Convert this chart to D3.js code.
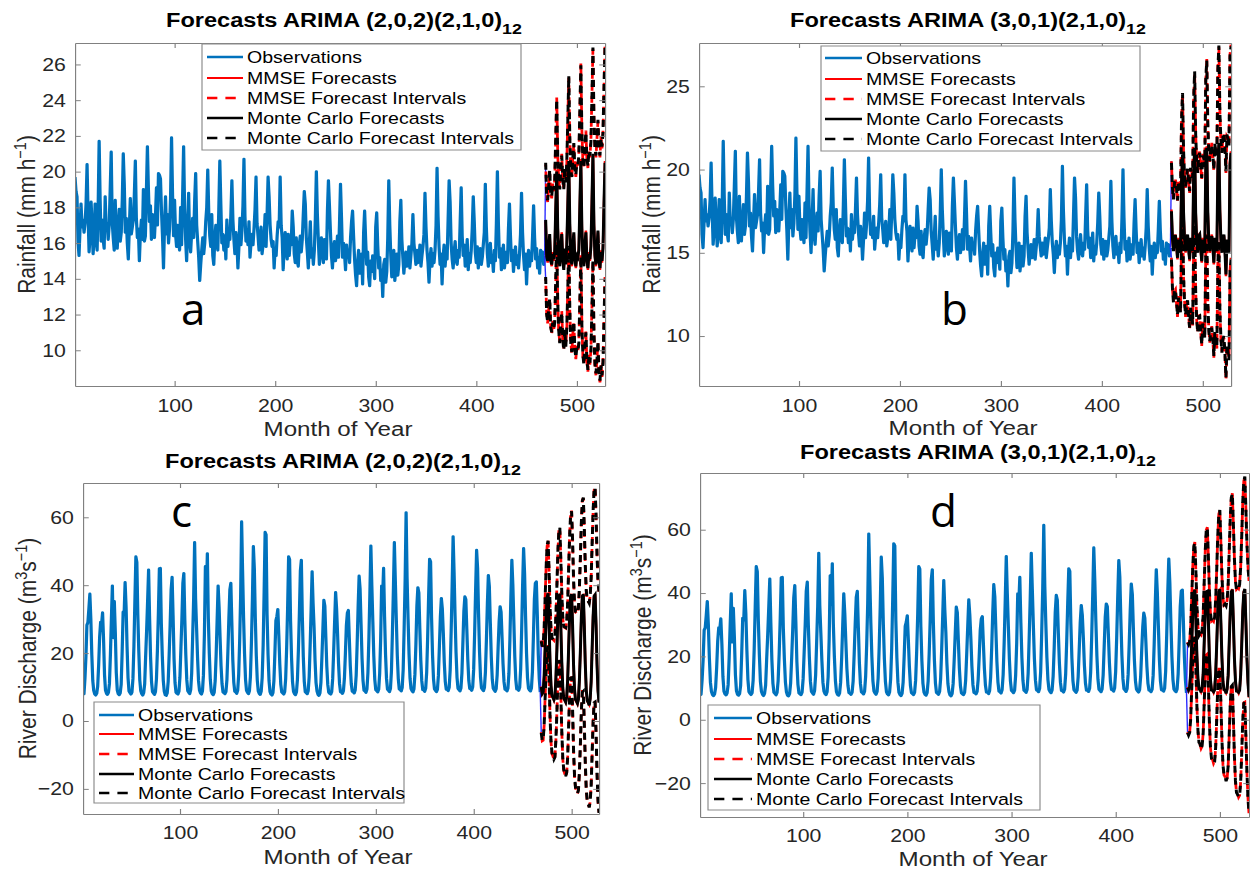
<!DOCTYPE html>
<html><head><meta charset="utf-8">
<script src="https://cdn.jsdelivr.net/npm/d3@7"></script>
<style>html,body{margin:0;padding:0;background:#fff;overflow:hidden}</style>
</head><body>
<svg id="chart"></svg>
<script>
// ---------------- DATA ----------------
const xTicks = [100, 200, 300, 400, 500];
const yTicksA = [10, 12, 14, 16, 18, 20, 22, 24, 26];
const yTicksB = [10, 15, 20, 25];
const yTicksCD = [-20, 0, 20, 40, 60];
const legendLabels = ["Observations", "MMSE Forecasts", "MMSE Forecast Intervals", "Monte Carlo Forecasts", "Monte Carlo Forecast Intervals"];
const titlesMain = ["Forecasts ARIMA (2,0,2)(2,1,0)", "Forecasts ARIMA (3,0,1)(2,1,0)", "Forecasts ARIMA (2,0,2)(2,1,0)", "Forecasts ARIMA (3,0,1)(2,1,0)"];
const titleSub = "12";
const panelLetters = ["a", "b", "c", "d"];

// Monthly rainfall observations, months 1..468
const rainObs = [
19.7,18.9,18.6,16.1,15.3,16.8,18.2,16.9,17.3,16.6,17.1,18.2,
20.4,17.6,15.5,16.4,18.3,17.0,15.4,16.2,18.2,16.3,15.6,17.9,
21.7,18.4,16.1,17.3,16.2,15.7,18.6,16.8,17.1,16.2,17.0,19.0,
21.1,17.2,16.3,15.6,18.4,16.4,15.7,16.9,17.9,16.1,16.6,18.4,
21.0,19.3,16.6,17.4,16.0,15.1,16.8,18.5,16.5,16.9,17.3,18.7,
20.6,17.4,16.3,16.8,15.0,16.5,17.3,16.2,19.0,16.1,16.4,18.9,
21.4,19.0,17.2,18.1,16.2,17.6,16.9,16.3,17.5,19.1,17.0,19.9,
19.8,19.6,17.8,16.4,14.6,16.9,18.6,16.5,17.6,16.0,16.8,18.5,
21.9,18.7,16.4,18.4,16.5,15.8,17.0,16.2,15.6,18.0,15.9,18.6,
21.4,17.9,16.2,15.0,16.8,18.8,16.1,15.5,16.6,17.4,16.3,18.4,
19.9,17.0,16.1,15.2,13.9,14.8,15.6,16.3,15.4,16.0,17.2,18.0,
20.1,17.7,16.4,15.8,17.6,15.3,14.8,16.2,17.0,16.1,15.6,17.9,
20.6,18.2,16.0,16.5,15.6,16.4,15.1,17.3,15.8,16.6,16.2,17.6,
19.5,17.3,16.2,15.4,16.6,16.0,14.6,15.8,17.4,15.9,16.7,18.1,
20.7,17.5,16.1,16.6,15.9,17.2,15.2,16.0,16.5,15.9,16.8,17.9,
19.7,17.1,16.4,15.6,16.2,16.9,15.4,15.9,16.2,17.6,15.8,17.6,
19.7,18.6,17.0,16.2,15.8,16.1,14.6,15.7,15.3,16.4,17.2,16.9,
19.7,17.0,16.3,14.5,15.8,16.6,15.6,15.1,16.5,15.3,16.1,15.9,
17.8,16.9,15.4,14.9,16.3,15.0,14.7,15.9,16.4,15.5,16.2,17.6,
18.9,18.2,16.3,15.5,14.6,15.9,17.2,15.2,15.7,14.8,15.6,17.4,
20.0,17.6,16.1,14.8,15.6,16.3,15.4,14.9,16.2,15.6,15.1,17.8,
19.5,18.1,16.6,15.3,14.6,15.7,16.1,15.0,15.5,16.4,15.2,17.1,
19.3,17.4,15.2,16.0,15.4,14.5,15.9,15.2,15.6,14.9,16.3,17.2,
17.8,16.4,15.1,14.2,13.6,14.9,15.6,14.3,14.9,15.4,13.7,16.6,
17.8,16.2,14.8,15.5,14.1,13.6,15.0,14.4,15.3,14.7,14.0,16.9,
17.7,15.9,14.6,15.2,13.9,14.5,13.0,14.8,15.1,13.8,14.4,16.3,
19.5,17.0,15.3,14.1,14.9,15.6,13.9,14.6,15.4,14.2,14.8,17.2,
18.4,16.2,15.2,14.3,15.0,15.5,14.7,14.9,15.8,14.6,15.3,16.0,
17.6,16.0,15.4,14.8,15.6,14.9,15.2,15.9,14.7,15.3,15.8,16.5,
18.8,16.9,15.6,14.9,13.8,15.1,15.7,14.7,15.4,14.9,15.6,17.0,
20.2,17.5,15.8,14.8,15.4,13.7,15.2,15.9,14.7,15.5,15.1,17.3,
19.5,18.3,16.0,15.1,14.6,15.5,16.1,15.0,14.8,15.6,15.2,17.2,
19.1,16.4,15.3,15.9,14.7,15.2,16.2,14.5,15.4,14.9,15.6,16.8,
18.6,17.2,15.5,14.9,15.8,14.6,15.3,15.7,14.8,15.2,15.9,16.6,
19.3,16.9,15.4,14.7,15.5,16.0,14.9,15.3,14.4,15.6,15.0,17.1,
20.0,17.1,15.2,15.7,14.5,15.3,15.9,14.6,15.1,15.5,14.9,16.8,
18.2,16.4,15.0,15.6,14.4,15.2,15.8,14.8,15.3,14.6,15.4,16.5,
18.8,16.6,15.3,14.5,15.4,13.7,15.1,15.6,14.7,15.3,15.0,16.4,
18.1,16.3,15.1,15.7,14.6,15.2,14.3,15.6,15.0,15.5,14.8,15.3
];

// Monthly river discharge observations, months 1..468
const dischargeObs = [
8.2,8.0,12.5,19.0,28.3,29.0,33.0,37.4,30.1,19.5,11.8,8.9,
7.9,7.6,8.1,10.2,16.5,24.8,29.1,28.6,31.9,24.0,13.6,9.0,
8.1,7.8,8.4,11.0,19.6,30.2,39.8,24.5,35.2,26.1,14.2,9.1,
8.0,7.7,8.2,10.8,20.5,32.1,31.5,40.8,33.6,21.9,12.7,8.8,
8.3,7.9,8.5,12.4,22.0,35.5,48.4,46.8,31.2,20.4,12.0,8.9,
8.0,7.6,8.3,10.9,19.2,26.8,35.4,44.5,30.6,18.9,11.5,8.6,
8.2,7.8,8.6,12.3,20.8,31.9,44.9,45.0,28.7,19.1,11.9,8.7,
7.7,7.5,8.2,11.6,19.5,28.4,38.6,42.4,31.0,18.3,11.2,8.4,
8.1,7.9,8.7,12.9,21.4,30.1,40.6,43.5,29.8,19.6,12.1,8.9,
8.4,8.0,9.2,14.1,24.8,35.9,52.6,36.0,27.4,18.7,11.8,9.0,
8.2,7.9,8.8,13.5,25.6,45.5,36.4,49.3,30.2,19.9,12.3,8.8,
8.0,7.7,8.4,11.8,19.6,29.8,39.8,33.5,24.6,16.2,10.9,8.5,
8.3,8.0,8.6,12.2,20.7,30.4,38.7,40.6,29.1,18.0,11.4,8.7,
8.5,8.1,9.0,13.6,23.5,36.8,58.7,44.2,30.5,19.8,12.2,9.0,
8.4,8.0,8.9,13.1,22.9,35.6,51.4,44.8,30.1,19.2,12.0,8.8,
8.1,7.8,8.7,12.8,22.4,38.1,55.6,54.9,31.3,19.5,11.8,8.6,
7.9,7.6,8.3,11.9,20.1,29.6,30.8,32.9,25.2,16.7,10.8,8.5,
8.2,7.9,8.6,12.5,21.6,33.4,48.4,47.6,29.4,18.6,11.5,8.7,
8.0,7.7,8.5,12.2,20.9,31.8,44.2,47.4,30.8,18.9,11.6,8.6,
8.3,8.0,8.9,13.0,22.3,33.0,44.0,34.7,27.6,17.8,11.3,8.8,
7.8,7.5,8.2,11.4,18.8,27.1,35.6,33.9,24.9,16.1,10.7,8.4,
8.1,7.9,8.6,12.4,20.5,29.4,37.9,33.1,25.7,16.9,11.0,8.6,
8.4,8.1,8.9,12.6,19.9,28.2,31.8,32.6,24.3,16.2,10.9,8.7,
8.6,8.2,9.1,13.4,22.6,33.8,42.7,38.9,28.5,18.4,11.9,9.0,
8.8,8.4,9.4,14.2,24.5,37.6,51.6,39.8,29.4,19.1,12.2,9.2,
8.9,8.5,9.3,14.0,24.1,39.8,36.5,45.0,30.7,19.6,12.4,9.3,
9.0,8.6,9.5,14.6,25.9,38.4,52.6,41.2,29.8,19.3,12.5,9.4,
9.2,8.8,9.8,15.1,27.4,41.5,61.4,42.0,30.1,19.7,12.6,9.5,
8.9,8.5,9.4,13.8,22.7,33.9,39.3,37.8,27.2,17.9,11.8,9.2,
9.1,8.7,9.6,14.3,24.6,36.9,47.7,46.9,30.4,19.4,12.3,9.4,
9.0,8.6,9.3,13.5,22.0,30.8,36.1,33.0,25.8,17.2,11.6,9.3,
9.3,8.9,9.9,15.0,26.3,39.7,54.3,43.8,31.0,20.1,12.8,9.6,
9.2,8.8,9.7,14.1,23.2,32.4,36.6,35.8,27.0,18.1,12.0,9.5,
9.4,9.0,10.0,15.2,26.0,38.8,50.3,45.1,31.5,20.3,12.9,9.7,
9.3,8.9,9.8,14.4,23.8,34.6,42.9,39.7,28.9,18.8,12.3,9.6,
9.1,8.7,9.5,13.6,21.9,29.3,33.7,32.1,24.6,16.8,11.5,9.3,
9.2,8.8,9.6,14.0,24.0,36.5,47.4,40.2,29.6,19.0,12.2,9.4,
9.4,9.0,9.9,15.3,26.7,40.1,50.8,43.4,30.9,19.9,12.7,9.6,
9.1,8.8,9.7,14.5,24.9,35.8,40.6,41.0,31.2,19.6,12.4,8.5
];

// Forecasts, months 469..528
const fcA_MMSE = [
17.2,15.4,14.9,15.8,16.4,15.1,14.7,15.5,15.0,15.6,17.8,20.1,
16.9,15.2,14.8,15.7,16.6,15.0,14.6,15.6,14.9,15.8,18.2,20.5,
17.0,15.3,14.7,15.9,16.5,15.2,14.6,15.4,15.1,15.7,18.0,20.7,
16.9,15.1,14.8,15.8,16.7,15.0,14.5,15.5,15.0,15.9,18.3,20.9,
17.1,15.2,14.7,15.7,16.6,15.1,14.5,15.6,14.9,15.8,18.1,20.6];
const fcA_MC = [
17.3,15.3,15.0,15.7,16.5,15.0,14.8,15.4,15.1,15.5,17.9,20.0,
16.8,15.3,14.7,15.8,16.5,15.1,14.5,15.7,14.8,15.9,18.1,20.6,
17.1,15.2,14.8,15.8,16.6,15.1,14.7,15.3,15.2,15.6,18.1,20.6,
16.8,15.2,14.7,15.9,16.6,15.1,14.6,15.4,15.1,15.8,18.2,21.0,
17.0,15.3,14.8,15.6,16.7,15.0,14.6,15.5,15.0,15.7,18.2,20.5];
const hwA = [
3.2,3.3,3.4,3.5,3.6,3.7,3.8,3.85,3.9,3.95,4.0,4.05,
4.1,4.2,4.3,4.35,4.4,4.45,4.5,4.55,4.6,4.65,4.7,4.75,
4.8,4.85,4.9,4.95,5.0,5.05,5.1,5.15,5.2,5.25,5.3,5.35,
5.4,5.45,5.5,5.55,5.6,5.65,5.7,5.75,5.8,5.85,5.9,5.95,
6.0,6.05,6.1,6.15,6.2,6.25,6.3,6.35,6.4,6.45,6.5,6.5];

const fcB_MMSE = [
17.6,15.8,15.2,15.9,16.1,15.4,14.6,15.9,15.5,15.1,19.4,20.8,
17.3,15.9,15.0,15.8,16.0,15.3,14.5,15.8,15.6,15.0,19.8,21.2,
17.5,15.7,15.1,15.9,16.2,15.2,14.4,15.9,15.5,15.1,20.1,21.4,
17.4,15.8,15.0,15.7,16.1,15.3,14.3,15.8,15.4,15.0,20.3,21.5,
17.6,15.7,15.1,15.8,16.0,15.2,13.6,15.7,15.5,15.1,20.4,21.1];
const fcB_MC = [
17.5,15.9,15.1,16.0,16.0,15.5,14.7,15.8,15.6,15.0,19.3,20.9,
17.4,15.8,15.1,15.7,16.1,15.2,14.6,15.9,15.5,15.1,19.7,21.3,
17.4,15.8,15.0,16.0,16.1,15.3,14.5,15.8,15.6,15.0,20.2,21.3,
17.5,15.7,15.1,15.8,16.0,15.4,14.4,15.9,15.3,15.1,20.2,21.6,
17.5,15.8,15.0,15.9,16.1,15.1,13.7,15.8,15.4,15.0,20.3,21.0];
const hwB = [
2.9,3.0,3.1,3.2,3.3,3.4,3.45,3.5,3.55,3.6,3.65,3.7,
3.75,3.8,3.85,3.9,3.95,4.0,4.1,4.2,4.3,4.4,4.5,4.6,
4.7,4.75,4.8,4.85,4.9,4.95,5.0,5.05,5.1,5.15,5.2,5.25,
5.3,5.35,5.4,5.45,5.5,5.55,5.6,5.65,5.7,5.75,5.8,5.85,
5.9,5.95,6.0,6.05,6.1,6.15,6.2,6.3,6.4,6.45,6.5,6.4];

const fcC_MMSE = [
10.2,7.9,8.4,13.1,21.8,30.5,36.2,37.8,28.4,17.6,10.3,7.2,
6.8,6.1,7.4,12.6,21.2,30.9,36.8,37.2,27.9,17.1,9.6,6.5,
6.0,5.4,6.9,12.2,21.5,31.2,36.5,37.5,28.3,16.8,9.2,6.1,
5.6,5.0,6.6,12.0,21.0,30.7,36.9,37.1,28.0,16.5,8.9,5.8,
5.3,4.8,6.4,11.8,21.3,31.0,36.6,37.4,28.2,16.7,8.7,5.6];
const fcC_MC = [
10.0,8.1,8.6,13.3,21.6,30.3,36.4,37.6,28.6,17.4,10.5,7.4,
7.0,6.3,7.2,12.8,21.0,31.1,36.6,37.4,27.7,17.3,9.8,6.7,
6.2,5.6,7.1,12.0,21.7,31.0,36.7,37.3,28.5,16.6,9.4,6.3,
5.8,5.2,6.4,12.2,20.8,30.9,36.7,37.3,27.8,16.7,9.1,6.0,
5.5,4.6,6.6,11.6,21.5,30.8,36.8,37.2,28.4,16.5,8.9,5.4];
const hwC = [
13.5,13.8,14.1,14.4,14.7,15.0,15.3,15.5,15.9,16.2,16.6,16.9,
17.2,17.6,17.9,18.2,18.6,18.9,19.2,19.5,19.9,20.3,20.7,21.1,
21.5,21.9,22.3,22.7,23.1,23.5,24.0,24.5,24.8,25.2,25.5,25.9,
26.2,26.5,26.8,27.2,27.5,27.8,28.2,28.5,28.8,29.0,29.3,29.6,
29.8,30.1,30.3,30.6,30.9,31.1,31.4,31.6,31.9,32.1,32.3,32.5];

const fcD_MMSE = [
10.3,9.2,10.1,14.8,23.9,33.6,39.7,41.2,31.5,20.3,12.8,9.9,
9.6,8.8,9.9,14.5,24.2,34.1,40.2,40.8,31.1,19.9,12.4,9.5,
9.4,8.6,9.7,14.3,23.8,33.9,40.5,41.0,30.8,19.6,12.2,9.3,
9.2,8.5,9.6,14.2,24.0,34.3,40.1,41.3,31.0,19.8,12.1,9.2,
9.1,8.4,9.5,14.1,23.7,34.0,40.4,41.1,30.9,19.5,12.0,7.0];
const fcD_MC = [
10.1,9.4,10.3,14.6,24.1,33.4,39.9,41.0,31.7,20.1,13.0,9.7,
9.8,8.6,10.1,14.3,24.4,33.9,40.4,40.6,31.3,19.7,12.6,9.3,
9.2,8.8,9.5,14.5,23.6,34.1,40.3,41.2,30.6,19.8,12.0,9.5,
9.4,8.3,9.8,14.0,24.2,34.1,40.3,41.1,31.2,19.6,12.3,9.0,
8.9,8.6,9.3,14.3,23.5,34.2,40.2,41.3,30.7,19.7,11.8,7.2];
const hwD = [
14.2,14.3,14.4,14.5,14.6,14.7,14.8,14.9,15.4,15.9,16.4,16.9,
17.4,17.9,18.3,18.7,19.1,19.4,19.7,20.0,20.4,20.8,21.2,21.6,
22.0,22.4,22.8,23.2,23.6,24.0,24.5,25.0,25.4,25.9,26.3,26.8,
27.2,27.7,28.1,28.6,29.0,29.4,29.8,30.2,30.7,31.1,31.6,32.0,
32.5,32.9,33.4,33.8,34.2,34.6,35.0,35.5,35.9,36.2,36.5,36.8];

// ---------------- LAYOUT ----------------
const SX = 1.15;               // horizontal stretch of the original figure
const W = 1250, H = 871;
const FONT = "'Liberation Sans', Arial, Helvetica, sans-serif";
const TXT = "#262626";
const C_OBS = "#0072BD", C_RED = "#ff0000", C_BLK = "#000000", C_LINK = "#2b2bff", C_AX = "#808080";

const svg = d3.select("#chart")
  .attr("width", W).attr("height", H)
  .attr("viewBox", `0 0 ${W / SX} ${H}`)
  .attr("preserveAspectRatio", "none");

const panels = [
  { obs: rainObs, fc: fcA_MMSE, mc: fcA_MC, hw: hwA, L: 75, R: 605, T: 43, B: 386, yDom: [8.0, 27.2], yTicks: yTicksA,
    title: titlesMain[0], tX: 344, tY: 27, xlX: 338, xlY: 436, tickBase: 412, yl: "rain", ylX: 35,
    letter: panelLetters[0], letX: 181, letY: 325,
    leg: { x0: 202, x1: 521, y0: 44, y1: 150, rows: [57, 78, 98, 118, 138], s0: 207, s1: 243, tx: 247 } },
  { obs: rainObs, fc: fcB_MMSE, mc: fcB_MC, hw: hwB, L: 699, R: 1231, T: 43, B: 386, yDom: [7.0, 27.6], yTicks: yTicksB,
    title: titlesMain[1], tX: 968, tY: 27, xlX: 963, xlY: 435, tickBase: 412, yl: "rain", ylX: 660,
    letter: panelLetters[1], letX: 941, letY: 325,
    leg: { x0: 821, x1: 1140, y0: 46, y1: 151, rows: [58, 79, 99, 119, 139], s0: 825, s1: 862, tx: 866 } },
  { obs: dischargeObs, fc: fcC_MMSE, mc: fcC_MC, hw: hwC, L: 83, R: 599, T: 483, B: 814, yDom: [-27.4, 70.1], yTicks: yTicksCD,
    title: titlesMain[2], tX: 343, tY: 468, xlX: 338, xlY: 864, tickBase: 839, yl: "flow", ylX: 36,
    letter: panelLetters[2], letX: 171, letY: 527,
    leg: { x0: 94, x1: 404, y0: 702, y1: 803, rows: [715, 734, 754, 774, 793], s0: 99, s1: 134, tx: 138 } },
  { obs: dischargeObs, fc: fcD_MMSE, mc: fcD_MC, hw: hwD, L: 700, R: 1249, T: 473, B: 817, yDom: [-30.7, 77.9], yTicks: yTicksCD,
    title: titlesMain[3], tX: 978, tY: 459, xlX: 973, xlY: 866, tickBase: 842, yl: "flow", ylX: 651,
    letter: panelLetters[3], letX: 930, letY: 527,
    leg: { x0: 708, x1: 1040, y0: 705, y1: 810, rows: [718, 739, 759, 779, 799], s0: 714, s1: 752, tx: 756 } }
];

const TICK_FS = 18.5, LAB_FS = 21, TITLE_FS = 20.5, LEG_FS = 17;

panels.forEach((p, pi) => {
  const g = svg.append("g");
  const x = d3.scaleLinear().domain([1, 528]).range([p.L / SX, p.R / SX]);
  const y = d3.scaleLinear().domain(p.yDom).range([p.B, p.T]);
  const nObs = p.obs.length;

  const obsPts = p.obs.map((v, i) => [i + 1, v]);
  const fcPts = p.fc.map((v, i) => [nObs + 1 + i, v]);
  const mcPts = p.mc.map((v, i) => [nObs + 1 + i, v]);
  const upPts = p.fc.map((v, i) => [nObs + 1 + i, v + p.hw[i]]);
  const loPts = p.fc.map((v, i) => [nObs + 1 + i, v - p.hw[i]]);
  const mcUp = p.mc.map((v, i) => [nObs + 1 + i, v + p.hw[i]]);
  const mcLo = p.mc.map((v, i) => [nObs + 1 + i, v - p.hw[i]]);

  const line = d3.line().x(d => x(d[0])).y(d => y(d[1]));

  // clip
  const cid = "clip" + pi;
  g.append("clipPath").attr("id", cid).append("rect")
    .attr("x", x.range()[0]).attr("y", p.T)
    .attr("width", x.range()[1] - x.range()[0]).attr("height", p.B - p.T);
  const plot = g.append("g").attr("clip-path", `url(#${cid})`);

  plot.append("path").attr("d", line(obsPts)).attr("fill", "none")
    .attr("stroke", C_OBS).attr("stroke-width", 2.8).attr("stroke-linejoin", "round");
  const last = obsPts[nObs - 1];
  plot.append("path").attr("d", line([last, upPts[0]])).attr("fill", "none").attr("stroke", C_LINK).attr("stroke-width", 1.2);
  plot.append("path").attr("d", line([last, loPts[0]])).attr("fill", "none").attr("stroke", C_LINK).attr("stroke-width", 1.2);

  plot.append("path").attr("d", line(fcPts)).attr("fill", "none").attr("stroke", C_RED).attr("stroke-width", 2.2);
  [upPts, loPts].forEach(pts => plot.append("path").attr("d", line(pts)).attr("fill", "none")
    .attr("stroke", C_RED).attr("stroke-width", 2.4).attr("stroke-dasharray", "7,5").attr("stroke-dashoffset", 5));
  plot.append("path").attr("d", line(mcPts)).attr("fill", "none").attr("stroke", C_BLK).attr("stroke-width", 2.6);
  [mcUp, mcLo].forEach(pts => plot.append("path").attr("d", line(pts)).attr("fill", "none")
    .attr("stroke", C_BLK).attr("stroke-width", 2.6).attr("stroke-dasharray", "7,5"));

  // axes (inward ticks, box)
  const styleAxis = (sel) => {
    sel.attr("font-family", FONT).attr("font-size", TICK_FS);
    sel.selectAll("path.domain").attr("stroke", C_AX).attr("stroke-width", 1);
    sel.selectAll(".tick line").attr("stroke", C_AX).attr("stroke-width", 1);
    sel.selectAll(".tick text").attr("fill", TXT);
  };
  const padB = (p.tickBase - p.B) - 0.71 * TICK_FS;
  g.append("g").attr("transform", `translate(0,${p.B})`)
    .call(d3.axisBottom(x).tickValues(xTicks).tickSize(-5).tickSizeOuter(0).tickPadding(padB)).call(styleAxis);
  g.append("g").attr("transform", `translate(0,${p.T})`)
    .call(d3.axisTop(x).tickValues(xTicks).tickSize(-5).tickSizeOuter(0).tickFormat("")).call(styleAxis);
  g.append("g").attr("transform", `translate(${x.range()[0]},0)`)
    .call(d3.axisLeft(y).tickValues(p.yTicks).tickSize(-5).tickSizeOuter(0).tickPadding(8)).call(styleAxis);
  g.append("g").attr("transform", `translate(${x.range()[1]},0)`)
    .call(d3.axisRight(y).tickValues(p.yTicks).tickSize(-5).tickSizeOuter(0).tickFormat("")).call(styleAxis);

  // title with subscript
  const t = g.append("text").attr("x", p.tX / SX).attr("y", p.tY).attr("text-anchor", "middle")
    .attr("font-family", FONT).attr("font-weight", "bold").attr("font-size", TITLE_FS).attr("fill", "#000");
  t.append("tspan").text(p.title);
  t.append("tspan").attr("dy", 7).attr("font-size", 15.5).text(titleSub);

  // x label
  g.append("text").attr("x", p.xlX / SX).attr("y", p.xlY).attr("text-anchor", "middle")
    .attr("font-family", FONT).attr("font-size", LAB_FS).attr("fill", TXT).text("Month of Year");

  // y label
  const cy = (p.T + p.B) / 2;
  const yl = g.append("text").attr("transform", `translate(${p.ylX / SX},${cy}) rotate(-90)`)
    .attr("text-anchor", "middle").attr("font-family", FONT).attr("font-size", LAB_FS).attr("fill", TXT);
  if (p.yl === "rain") {
    yl.append("tspan").text("Rainfall (mm h");
    yl.append("tspan").attr("dy", -8).attr("font-size", 14.5).text("\u22121");
    yl.append("tspan").attr("dy", 8).text(")");
  } else {
    yl.append("tspan").text("River Discharge (m");
    yl.append("tspan").attr("dy", -8).attr("font-size", 14.5).text("3");
    yl.append("tspan").attr("dy", 8).text("s");
    yl.append("tspan").attr("dy", -8).attr("font-size", 14.5).text("\u22121");
    yl.append("tspan").attr("dy", 8).text(")");
  }

  // panel letter (drawn unstretched)
  g.append("text").attr("transform", `translate(${p.letX / SX},${p.letY}) scale(${1 / SX},1)`)
    .attr("font-family", "'Open Sans', 'Noto Sans', sans-serif").attr("font-size", 44).attr("fill", "#000").text(p.letter);

  // legend
  const lg = g.append("g");
  lg.append("rect").attr("x", p.leg.x0 / SX).attr("y", p.leg.y0)
    .attr("width", (p.leg.x1 - p.leg.x0) / SX).attr("height", p.leg.y1 - p.leg.y0)
    .attr("fill", "#fff").attr("stroke", "#8a8a8a").attr("stroke-width", 1);
  const legStyles = [
    { c: C_OBS, w: 2.6, dash: null },
    { c: C_RED, w: 2.2, dash: null },
    { c: C_RED, w: 2.4, dash: "9,7" },
    { c: C_BLK, w: 2.4, dash: null },
    { c: C_BLK, w: 2.4, dash: "9,7" }
  ];
  legendLabels.forEach((lab, i) => {
    const yy = p.leg.rows[i];
    const s = legStyles[i];
    const ln = lg.append("line").attr("x1", p.leg.s0 / SX).attr("x2", p.leg.s1 / SX)
      .attr("y1", yy).attr("y2", yy).attr("stroke", s.c).attr("stroke-width", s.w);
    if (s.dash) ln.attr("stroke-dasharray", s.dash);
    lg.append("text").attr("x", p.leg.tx / SX).attr("y", yy).attr("dy", "0.36em")
      .attr("font-family", FONT).attr("font-size", LEG_FS).attr("fill", "#000").text(lab);
  });
});
</script>
</body></html>
